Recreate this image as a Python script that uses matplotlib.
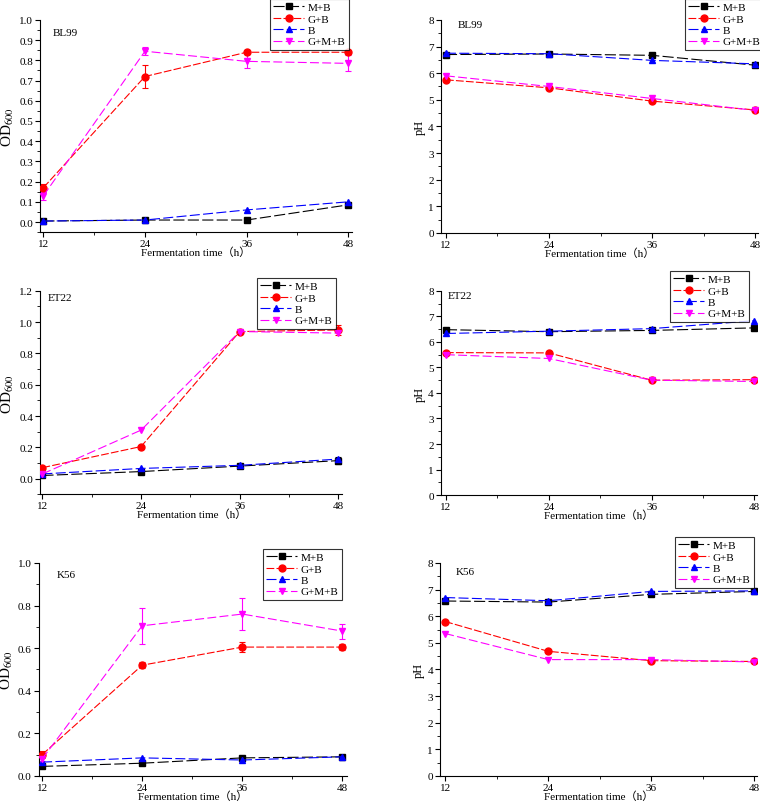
import matplotlib
matplotlib.use("Agg")
import matplotlib.pyplot as plt
from matplotlib.ticker import MultipleLocator

plt.rcParams['font.family'] = ['Liberation Serif', 'DejaVu Serif']
plt.rcParams['mathtext.fontset'] = 'stix'

time_h = [12, 24, 36, 48]
series_names = ["M+B", "G+B", "B", "G+M+B"]

# BL99 OD600
bl99_od_mb = [0.005, 0.01, 0.01, 0.085]
bl99_od_gb = [0.17, 0.72, 0.84, 0.84]
bl99_od_b = [0.005, 0.01, 0.06, 0.10]
bl99_od_gmb = [0.13, 0.845, 0.795, 0.785]
bl99_od_gb_err = [0.02, 0.055, 0.01, 0.01]
bl99_od_gmb_err = [0.02, 0.02, 0.035, 0.04]

# BL99 pH
bl99_ph_mb = [6.70, 6.72, 6.67, 6.30]
bl99_ph_gb = [5.75, 5.45, 4.95, 4.62]
bl99_ph_b = [6.75, 6.73, 6.48, 6.35]
bl99_ph_gmb = [5.90, 5.50, 5.05, 4.60]

# ET22 OD600
et22_od_mb = [0.02, 0.045, 0.08, 0.115]
et22_od_gb = [0.07, 0.205, 0.94, 0.95]
et22_od_b = [0.03, 0.065, 0.085, 0.125]
et22_od_gmb = [0.03, 0.31, 0.94, 0.93]
et22_od_mb_err = [0.005, 0.005, 0.005, 0.02]
et22_od_gb_err = [0.005, 0.005, 0.005, 0.03]

# ET22 pH
et22_ph_mb = [6.48, 6.40, 6.45, 6.55]
et22_ph_gb = [5.58, 5.57, 4.50, 4.52]
et22_ph_b = [6.33, 6.42, 6.52, 6.83]
et22_ph_gmb = [5.50, 5.35, 4.50, 4.45]

# K56 OD600
k56_od_mb = [0.045, 0.06, 0.085, 0.09]
k56_od_gb = [0.10, 0.52, 0.605, 0.605]
k56_od_b = [0.065, 0.085, 0.075, 0.09]
k56_od_gmb = [0.08, 0.705, 0.76, 0.68]
k56_od_gb_err = [0.015, 0.015, 0.025, 0.015]
k56_od_gmb_err = [0.01, 0.085, 0.075, 0.035]

# K56 pH
k56_ph_mb = [6.57, 6.53, 6.82, 6.93]
k56_ph_gb = [5.80, 4.68, 4.33, 4.30]
k56_ph_b = [6.70, 6.58, 6.93, 6.95]
k56_ph_gmb = [5.35, 4.37, 4.37, 4.28]

colors = ["black", "#ff0000", "#0000ff", "#ff00ff"]
markers = ["s", "o", "^", "v"]
dashes = [(10, 3), (7, 2), (9, 3), (8, 3)]

W, H = 760, 804
fig = plt.figure(figsize=(7.6, 8.04), dpi=100)

panels = [
    dict(rect=[0.0526, 0.710, 0.410, 0.264], name="BL99", ylab="od", txt=(53, 33),
         data=[bl99_od_mb, bl99_od_gb, bl99_od_b, bl99_od_gmb],
         err=[None, bl99_od_gb_err, None, bl99_od_gmb_err],
         ylim=(-0.05, 1.0), major=0.1, minor=0.05, fmt="{:.1f}",
         xlim=(11.6, 48.4), leg=(270, 0)),
    dict(rect=[0.580, 0.709, 0.417, 0.265], name="BL99", ylab="ph", txt=(458, 26),
         data=[bl99_ph_mb, bl99_ph_gb, bl99_ph_b, bl99_ph_gmb],
         err=[None, None, None, None],
         ylim=(0, 8), major=1, minor=0.5, fmt="{:.0f}",
         xlim=(11.4, 48.3), leg=(685, 0)),
    dict(rect=[0.0526, 0.384, 0.398, 0.253], name="ET22", ylab="od", txt=(48, 299),
         data=[et22_od_mb, et22_od_gb, et22_od_b, et22_od_gmb],
         err=[et22_od_mb_err, et22_od_gb_err, None, None],
         ylim=(-0.1, 1.2), major=0.2, minor=0.1, fmt="{:.1f}",
         xlim=(11.7, 48.5), leg=(257, 279)),
    dict(rect=[0.580, 0.383, 0.416, 0.254], name="ET22", ylab="ph", txt=(448, 297),
         data=[et22_ph_mb, et22_ph_gb, et22_ph_b, et22_ph_gmb],
         err=[None, None, None, None],
         ylim=(0, 8), major=1, minor=0.5, fmt="{:.0f}",
         xlim=(11.4, 48.3), leg=(670, 272)),
    dict(rect=[0.051, 0.0336, 0.405, 0.265], name="K56", ylab="od", txt=(57, 575),
         data=[k56_od_mb, k56_od_gb, k56_od_b, k56_od_gmb],
         err=[None, k56_od_gb_err, None, k56_od_gmb_err],
         ylim=(0, 1.0), major=0.2, minor=0.1, fmt="{:.1f}",
         xlim=(11.6, 48.5), leg=(263, 550)),
    dict(rect=[0.579, 0.0336, 0.417, 0.265], name="K56", ylab="ph", txt=(456, 573),
         data=[k56_ph_mb, k56_ph_gb, k56_ph_b, k56_ph_gmb],
         err=[None, None, None, None],
         ylim=(0, 8), major=1, minor=0.5, fmt="{:.0f}",
         xlim=(11.4, 48.3), leg=(675, 538)),
]

for p in panels:
    ax = fig.add_axes(p["rect"])
    for i, (vals, e) in enumerate(zip(p["data"], p["err"])):
        ax.plot(time_h, vals, color=colors[i], marker=markers[i],
                markersize=5, linewidth=0.8, dashes=dashes[i],
                label=series_names[i], zorder=3)
        if e is not None:
            ax.errorbar(time_h, vals, yerr=e, fmt="none", ecolor=colors[i],
                        elinewidth=0.8, capsize=2.5, capthick=0.8, zorder=2)
    ax.set_xlim(*p["xlim"])
    ax.set_ylim(*p["ylim"])
    ax.set_xticks(time_h)
    ax.yaxis.set_major_locator(MultipleLocator(p["major"]))
    ax.yaxis.set_minor_locator(MultipleLocator(p["minor"]))
    ax.xaxis.set_minor_locator(MultipleLocator(6))
    ax.yaxis.set_major_formatter(plt.FuncFormatter(lambda v, pos, f=p["fmt"]: f.format(v + 0.0)))
    for s in ["top", "right"]:
        ax.spines[s].set_visible(False)
    for s in ["left", "bottom"]:
        ax.spines[s].set_linewidth(0.8)
    ax.tick_params(axis="both", which="major", direction="out", length=3.5,
                   width=0.8, labelsize=8, pad=1.5)
    ax.tick_params(axis="both", which="minor", direction="out", length=2, width=0.6)
    ax.set_xlabel("Fermentation time（h）", fontsize=8,
                  family=['Liberation Serif', 'Noto Sans CJK SC'], labelpad=-1)
    if p["ylab"] == "od":
        ax.set_ylabel(r"OD$_{600}$", fontsize=11, labelpad=2)
    else:
        ax.set_ylabel("pH", fontsize=9, labelpad=2)
    tx, ty = p["txt"]
    fig.text(tx / W, 1 - ty / H, p["name"], fontsize=8, va="center", ha="left")
    lx, ly = p["leg"]
    leg = ax.legend(loc="upper left", bbox_to_anchor=(lx / W, 1 - ly / H),
                    bbox_transform=fig.transFigure, fontsize=8, frameon=True,
                    fancybox=False, edgecolor="black", borderpad=0.3,
                    labelspacing=0.15, handlelength=2.8, handletextpad=0.3,
                    borderaxespad=0)
    leg.get_frame().set_linewidth(0.8)

fig.savefig("out.png", dpi=100)
